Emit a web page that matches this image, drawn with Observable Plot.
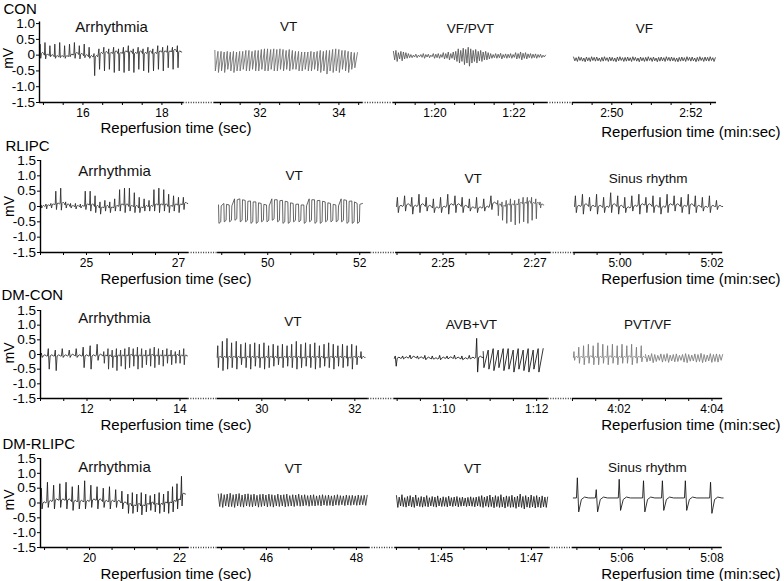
<!DOCTYPE html>
<html><head><meta charset="utf-8">
<script src="https://cdn.jsdelivr.net/npm/d3@7"></script>
<script src="https://cdn.jsdelivr.net/npm/@observablehq/plot@0.6"></script>
<style>
body{margin:0;background:#fff;}
#c{position:relative;width:784px;height:581px;background:#fff;overflow:hidden;}
</style></head><body><div id="c"></div>
<script>
// ---------- DATA ----------
const groups = ["CON","RLIPC","DM-CON","DM-RLIPC"];
const segTitles = [
  ["Arrhythmia","VT","VF/PVT","VF"],
  ["Arrhythmia","VT","VT","Sinus rhythm"],
  ["Arrhythmia","VT","AVB+VT","PVT/VF"],
  ["Arrhythmia","VT","VT","Sinus rhythm"]
];
// time windows shown in each panel segment (seconds of reperfusion)
const segWindows = [
  [[14.9,18.55],[30.85,34.6],[78.95,82.85],[169.0,172.65]],
  [[24.0,27.22],[48.91,52.24],[143.97,147.34],[298.99,302.23]],
  [[11.0,14.18],[29.04,32.29],[68.94,72.25],[241.0,244.23]],
  [[18.91,22.2],[44.91,48.29],[103.98,107.4],[304.9,308.23]]
];
const majorTicks = [
  [[16,18],[32,34],[80,82],[170,172]],
  [[25,27],[50,52],[145,147],[300,302]],
  [[12,14],[30,32],[70,72],[242,244]],
  [[20,22],[46,48],[105,107],[306,308]]
];
const majorLabels = [
  [["16","18"],["32","34"],["1:20","1:22"],["2:50","2:52"]],
  [["25","27"],["50","52"],["2:25","2:27"],["5:00","5:02"]],
  [["12","14"],["30","32"],["1:10","1:12"],["4:02","4:04"]],
  [["20","22"],["46","48"],["1:45","1:47"],["5:06","5:08"]]
];
const yTicks = [1.5,1.0,0.5,0,-0.5,-1.0,-1.5];
const yTickLabels = ["1.5","1.0","0.5","0","-0.5","-1.0","-1.5"];
const xTitleSec = "Reperfusion time (sec)";
const xTitleMin = "Reperfusion time (min:sec)";
const yTitle = "mV";

// ---- ECG traces (mV): beats [peak, trough, baseline] or hi/lo extremes ----
const conArr = [[0.35,-0.1,0.05],[0.4,-0.12,0.0],[0.3,-0.05,-0.02],[0.35,-0.1,-0.05],[0.4,-0.08,-0.05],[0.3,-0.1,-0.05],[0.35,-0.05,0.0],[0.4,-0.1,0.05],[0.3,-0.12,0.02],[0.35,-0.08,-0.02],[0.25,-0.1,-0.05],
  [0.05,-0.65,-0.05],[0.2,-0.45,0.05],[0.25,-0.5,0.08],[0.2,-0.45,0.05],[0.25,-0.55,0.1],[0.2,-0.5,0.05],[0.25,-0.55,0.1],[0.3,-0.5,0.1],[0.2,-0.55,0.05],[0.25,-0.45,0.1],[0.2,-0.5,0.05],[0.25,-0.55,0.1],[0.2,-0.5,0.05],[0.3,-0.45,0.1],[0.25,-0.5,0.1],[0.3,-0.4,0.1],[0.25,-0.45,0.15],[0.3,-0.4,0.1]];
const conVtHi = [0.15,0.12,0.12,0.1,0.12,0.1,0.12,0.1,0.12,0.12,0.15,0.15,0.12,0.15,0.15,0.18,0.2,0.2,0.18,0.2,0.18,0.2,0.18,0.15,0.18,0.15,0.12,0.12,0.1,0.1,0.1,0.12,0.1,0.12,0.15,0.12,0.15,0.15,0.18,0.2,0.18,0.15,0.15,0.12,0.1,0.08];
const conVtLo = [-0.5,-0.55,-0.5,-0.55,-0.45,-0.5,-0.55,-0.5,-0.5,-0.45,-0.5,-0.5,-0.45,-0.5,-0.5,-0.45,-0.5,-0.5,-0.45,-0.5,-0.5,-0.45,-0.5,-0.45,-0.5,-0.45,-0.45,-0.5,-0.5,-0.45,-0.5,-0.5,-0.45,-0.5,-0.55,-0.5,-0.6,-0.5,-0.55,-0.5,-0.55,-0.45,-0.5,-0.55,-0.45,-0.4];
const conVfpvtHi = [0.12,0.15,0.08,0.12,0.1,0.08,0.05, 0.02,0.0,0.03,0.0,0.02,0.05,0.02,0.03,0.0,0.05,0.03,0.05,0.02,0.08,0.05,0.1,0.05,0.1, 0.12,0.2,0.15,0.22,0.18,0.25,0.2,0.15,0.18,0.12,0.15,0.1,0.12,0.08, 0.05,0.02,0.05,0.03,0.06,0.02,0.04,0.03,0.05,0.02,0.08,0.05,0.1,0.06,0.08,0.04,0.05,0.03,0.04,0.02,0.03,0.0];
const conVfpvtLo = [-0.15,-0.2,-0.12,-0.18,-0.12,-0.1,-0.08, -0.08,-0.06,-0.08,-0.05,-0.07,-0.1,-0.06,-0.08,-0.05,-0.1,-0.08,-0.1,-0.07,-0.12,-0.1,-0.15,-0.1,-0.15, -0.2,-0.25,-0.2,-0.3,-0.25,-0.35,-0.25,-0.2,-0.25,-0.18,-0.2,-0.15,-0.15,-0.12, -0.1,-0.08,-0.1,-0.08,-0.12,-0.08,-0.1,-0.08,-0.1,-0.07,-0.12,-0.1,-0.15,-0.1,-0.12,-0.08,-0.1,-0.08,-0.1,-0.07,-0.08,-0.06];
const conVfHi = [-0.06,-0.08,-0.05,-0.07,-0.09,-0.06,-0.08,-0.05,-0.07,-0.06,-0.09,-0.07,-0.05,-0.08,-0.06,-0.07,-0.09,-0.06,-0.05,-0.08,-0.07,-0.06,-0.08,-0.05,-0.07,-0.09,-0.06,-0.08,-0.07,-0.05,-0.08,-0.06,-0.09,-0.07,-0.06,-0.08,-0.05,-0.07,-0.06,-0.08,-0.09,-0.07,-0.06,-0.08,-0.05,-0.07,-0.06,-0.09,-0.07,-0.05,-0.08,-0.06,-0.07,-0.05,-0.08];
const conVfLo = [-0.18,-0.2,-0.17,-0.19,-0.21,-0.18,-0.2,-0.17,-0.19,-0.18,-0.2,-0.19,-0.17,-0.2,-0.18,-0.19,-0.21,-0.18,-0.17,-0.2,-0.19,-0.18,-0.2,-0.17,-0.19,-0.21,-0.18,-0.2,-0.19,-0.17,-0.2,-0.18,-0.21,-0.19,-0.18,-0.2,-0.17,-0.19,-0.18,-0.2,-0.21,-0.19,-0.18,-0.2,-0.17,-0.19,-0.18,-0.21,-0.19,-0.17,-0.2,-0.18,-0.19,-0.17,-0.2];

const rlArr = [[0.05,-0.05,0.0],[0.08,-0.08,0.02],[0.1,-0.05,0.05],[0.5,-0.1,0.08],[0.6,-0.12,0.1],[0.15,-0.05,0.05],[0.1,-0.05,0.0],[0.1,-0.08,0.0],[0.08,-0.05,0.0],
  [0.5,-0.1,0.05],[0.5,-0.15,0.05],[0.35,-0.2,0.0],[0.15,-0.25,-0.05],[0.2,-0.15,0.0],[0.15,-0.2,-0.05],[0.25,-0.15,0.0],
  [0.55,-0.15,0.05],[0.6,-0.2,0.05],[0.6,-0.15,0.0],[0.45,-0.2,0.0],[0.3,-0.2,-0.05],[0.25,-0.15,0.0],[0.2,-0.15,0.0],
  [0.55,-0.15,0.05],[0.6,-0.2,0.05],[0.55,-0.15,0.05],[0.4,-0.2,0.0],[0.35,-0.15,0.05],[0.3,-0.2,0.05],[0.3,-0.1,0.1]];
const rlVtHi = [0.05,0.1,0.05,0.25,0.25,0.2,0.18,0.15,0.1,0.05,0.25,0.22,0.2,0.15,0.1,0.08,0.05,0.25,0.22,0.2,0.15,0.1,0.05,0.25,0.2,0.18,0.1];
const rlVtLo = [-0.55,-0.5,-0.5,-0.45,-0.5,-0.5,-0.55,-0.55,-0.5,-0.5,-0.45,-0.5,-0.55,-0.55,-0.5,-0.5,-0.55,-0.5,-0.55,-0.55,-0.5,-0.5,-0.5,-0.5,-0.55,-0.55,-0.55];
const rlVt2a = [[0.3,-0.2,0.0],[0.35,-0.15,0.05],[0.3,-0.25,0.0],[0.4,-0.2,0.05],[0.3,-0.15,0.0],[0.25,-0.2,-0.05],[0.3,-0.2,-0.03],[0.4,-0.25,0.05],[0.35,-0.2,0.05],[0.3,-0.2,0.0],[0.25,-0.15,-0.05],[0.3,-0.2,-0.05],[0.25,-0.15,-0.03],[0.35,-0.1,0.1]];
const rlVt2b = [[0.2,-0.3,0.05],[0.15,-0.45,0.0],[0.2,-0.55,0.05],[0.25,-0.5,0.05],[0.2,-0.6,0.05],[0.25,-0.55,0.1],[0.3,-0.5,0.1],[0.3,-0.55,0.15],[0.3,-0.45,0.1],[0.25,-0.4,0.1],[0.15,-0.05,0.05]];
const rlSinus = [[0.35,-0.2,0.0],[0.4,-0.25,0.05],[0.3,-0.15,0.0],[0.4,-0.25,0.0],[0.3,-0.2,-0.03],[0.45,-0.2,0.05],[0.35,-0.25,0.0],[0.3,-0.2,-0.05],[0.35,-0.15,0.0],[0.4,-0.25,0.05],[0.3,-0.2,0.05],[0.35,-0.2,0.0],[0.3,-0.25,-0.03],[0.4,-0.2,0.05],[0.35,-0.15,0.05],[0.3,-0.2,0.0],[0.4,-0.25,0.05],[0.35,-0.2,0.0],[0.3,-0.15,-0.03],[0.35,-0.2,0.0],[0.2,-0.1,0.0]];

const dcArrA = [[0.05,-0.1,-0.05],[0.2,-0.5,-0.05],[0.15,-0.55,-0.05],[0.2,-0.1,-0.05],[0.15,-0.1,-0.03],[0.2,-0.1,-0.05],[0.25,-0.45,-0.05],[0.3,-0.5,-0.05],[0.35,-0.2,-0.03]];
const dcArrB = [[0.1,-0.3,-0.05],[0.2,-0.5,-0.05],[0.15,-0.45,-0.08],[0.2,-0.55,-0.05],[0.15,-0.4,-0.05],[0.2,-0.5,-0.05],[0.25,-0.45,-0.03],[0.2,-0.4,-0.05],[0.25,-0.5,-0.05],[0.2,-0.45,-0.05],[0.15,-0.35,-0.05],[0.2,-0.4,-0.03],[0.25,-0.45,-0.05],[0.2,-0.35,-0.05],[0.15,-0.4,-0.05],[0.2,-0.3,-0.05],[0.15,-0.35,-0.05],[0.1,-0.3,-0.03],[0.15,-0.3,-0.05],[0.2,-0.35,-0.05]];
const dcVt = [[0.3,-0.45,-0.1],[0.45,-0.55,-0.1],[0.55,-0.5,-0.1],[0.4,-0.45,-0.1],[0.45,-0.5,-0.1],[0.35,-0.35,-0.12],[0.4,-0.45,-0.1],[0.35,-0.5,-0.1],[0.4,-0.4,-0.1],[0.35,-0.45,-0.12],[0.4,-0.5,-0.1],[0.3,-0.45,-0.1],[0.35,-0.4,-0.1],[0.3,-0.35,-0.12],[0.35,-0.45,-0.1],[0.3,-0.4,-0.1],[0.35,-0.45,-0.1],[0.45,-0.5,-0.1],[0.35,-0.45,-0.12],[0.4,-0.4,-0.1],[0.35,-0.45,-0.1],[0.4,-0.5,-0.1],[0.3,-0.45,-0.1],[0.35,-0.4,-0.12],[0.4,-0.45,-0.1],[0.35,-0.5,-0.1],[0.3,-0.4,-0.1],[0.35,-0.45,-0.1],[0.3,-0.4,-0.12],[0.35,-0.5,-0.1],[0.3,-0.35,-0.1],[0.1,-0.15,-0.1]];
const dcAvb = [[-0.05,-0.4,-0.13],[-0.05,-0.15,-0.12],[-0.02,-0.15,-0.1],[-0.05,-0.15,-0.12],[-0.03,-0.18,-0.13],[-0.05,-0.15,-0.15],[-0.03,-0.18,-0.13],[-0.05,-0.15,-0.12],[-0.02,-0.15,-0.13],[-0.05,-0.18,-0.15],[-0.03,-0.15,-0.13],[0.55,-0.6,-0.1]];
const dcAvbVtHi = [0.1,0.15,0.2,0.15,0.2,0.2,0.15,0.2,0.15,0.2,0.15,0.2];
const dcAvbVtLo = [-0.45,-0.5,-0.55,-0.45,-0.55,-0.5,-0.6,-0.5,-0.55,-0.6,-0.5,-0.6];
const dcPvt = [[0.1,-0.2,-0.1],[0.25,-0.3,-0.1],[0.3,-0.35,-0.1],[0.35,-0.3,-0.08],[0.3,-0.35,-0.1],[0.4,-0.35,-0.1],[0.35,-0.3,-0.1],[0.3,-0.35,-0.08],[0.35,-0.3,-0.1],[0.3,-0.35,-0.1],[0.35,-0.3,-0.1],[0.3,-0.3,-0.08],[0.35,-0.35,-0.1],[0.25,-0.3,-0.1],[0.3,-0.25,-0.1]];
const dcVfHi = [0.0,-0.02,0.03,0.0,-0.03,0.02,0.0,0.03,-0.02,0.0,0.02,-0.03,0.0,0.03,0.0,-0.02,0.02,0.0,0.04,0.0,-0.02,0.03,0.0,0.02,0.0];
const dcVfLo = [-0.25,-0.22,-0.28,-0.24,-0.2,-0.26,-0.23,-0.27,-0.22,-0.25,-0.24,-0.2,-0.26,-0.28,-0.23,-0.22,-0.26,-0.24,-0.28,-0.25,-0.22,-0.27,-0.24,-0.26,-0.2];

const drArrA = [[0.5,-0.2,0.0],[0.7,-0.15,0.05],[0.6,-0.2,0.1],[0.65,-0.15,0.1],[0.7,-0.2,0.1],[0.55,-0.25,0.05],[0.6,-0.2,0.05],[0.75,-0.2,0.05],[0.6,-0.15,0.1],[0.55,-0.2,0.1],[0.5,-0.15,0.05],[0.55,-0.2,0.05],[0.45,-0.15,0.05],[0.4,-0.2,0.0]];
const drArrB = [[0.3,-0.35,-0.05],[0.35,-0.35,-0.1],[0.3,-0.3,-0.05],[0.35,-0.4,-0.1],[0.3,-0.3,-0.05],[0.25,-0.25,0.0],[0.3,-0.3,-0.05],[0.35,-0.35,-0.05],[0.3,-0.3,0.0],[0.4,-0.35,0.0],[0.55,-0.3,0.05],[0.65,-0.2,0.1],[0.9,-0.1,0.3]];
const drVtHi = [0.3,0.32,0.28,0.3,0.33,0.28,0.3,0.32,0.27,0.3,0.31,0.28,0.3,0.26,0.29,0.3,0.27,0.3,0.28,0.26,0.3,0.27,0.28,0.3,0.25,0.28,0.27,0.3,0.26,0.28,0.25,0.27,0.28,0.24,0.26,0.28,0.25,0.27,0.24,0.26,0.28,0.25,0.24,0.27,0.25,0.26,0.24,0.27,0.25,0.26];
const drVtLo = [-0.12,-0.15,-0.1,-0.13,-0.12,-0.15,-0.1,-0.12,-0.14,-0.1,-0.12,-0.13,-0.1,-0.14,-0.12,-0.1,-0.13,-0.11,-0.14,-0.1,-0.12,-0.1,-0.13,-0.11,-0.1,-0.12,-0.09,-0.11,-0.1,-0.08,-0.11,-0.09,-0.1,-0.08,-0.1,-0.07,-0.09,-0.08,-0.1,-0.07,-0.08,-0.06,-0.09,-0.07,-0.08,-0.06,-0.08,-0.07,-0.06,-0.08];
const drVt2Hi = [0.25,0.2,0.28,0.18,0.22,0.25,0.2,0.27,0.18,0.22,0.2,0.25,0.18,0.22,0.2,0.24,0.17,0.21,0.19,0.23,0.18,0.2,0.22,0.18,0.2,0.17,0.19,0.21,0.18,0.2,0.22,0.25,0.2,0.23,0.27,0.2,0.25,0.22,0.28,0.2,0.24,0.22,0.26,0.2,0.23,0.3,0.22,0.25,0.2,0.27,0.22,0.25,0.2,0.24,0.2];
const drVt2Lo = [-0.15,-0.1,-0.12,-0.14,-0.1,-0.13,-0.15,-0.1,-0.12,-0.14,-0.11,-0.13,-0.1,-0.12,-0.14,-0.1,-0.12,-0.11,-0.13,-0.1,-0.12,-0.1,-0.13,-0.11,-0.1,-0.12,-0.1,-0.11,-0.13,-0.1,-0.12,-0.15,-0.11,-0.14,-0.12,-0.16,-0.12,-0.15,-0.13,-0.17,-0.12,-0.15,-0.14,-0.18,-0.13,-0.15,-0.2,-0.14,-0.16,-0.13,-0.17,-0.14,-0.16,-0.13,-0.15];
// sinus beats with their times: [time (s), R peak, S trough]
const drSinus = [[305.01,0.85,-0.3],[305.43,0.45,-0.3],[305.94,0.8,-0.25],[306.48,0.75,-0.3],[306.9,0.75,-0.25],[307.41,0.75,-0.25],[307.97,0.7,-0.35]];
const drSinusBase = 0.17;

// trace list: row, segment, time span, encoding
const traces = [
  {row:0, seg:0, t:[14.9,18.5], shape:"spike", beats:conArr, color:"#2a2a2a"},
  {row:0, seg:1, t:[30.86,34.47], shape:"vt", hi:conVtHi, lo:conVtLo, color:"#6a6a6a"},
  {row:0, seg:2, t:[78.95,82.8], shape:"zig", hi:conVfpvtHi, lo:conVfpvtLo, color:"#555"},
  {row:0, seg:3, t:[169.03,172.62], shape:"zig", hi:conVfHi, lo:conVfLo, color:"#3a3a3a"},
  {row:1, seg:0, t:[24.0,27.2], shape:"spike", beats:rlArr, color:"#2a2a2a"},
  {row:1, seg:1, t:[48.93,52.06], shape:"sq", hi:rlVtHi, lo:rlVtLo, color:"#4a4a4a"},
  {row:1, seg:2, t:[143.99,146.18], shape:"spike", beats:rlVt2a, color:"#2a2a2a"},
  {row:1, seg:2, t:[146.18,147.19], shape:"spike", beats:rlVt2b, color:"#555"},
  {row:1, seg:3, t:[299.01,302.23], shape:"spike", beats:rlSinus, color:"#2a2a2a"},
  {row:2, seg:0, t:[11.0,12.35], shape:"spike", beats:dcArrA, color:"#222"},
  {row:2, seg:0, t:[12.35,14.16], shape:"spike", beats:dcArrB, color:"#333"},
  {row:2, seg:1, t:[29.04,32.22], shape:"spike", beats:dcVt, color:"#2a2a2a"},
  {row:2, seg:2, t:[68.94,70.85], shape:"spike", beats:dcAvb, color:"#111"},
  {row:2, seg:2, t:[70.85,72.14], shape:"vt", hi:dcAvbVtHi, lo:dcAvbVtLo, color:"#111"},
  {row:2, seg:3, t:[241.02,242.57], shape:"spike", beats:dcPvt, color:"#7a7a7a"},
  {row:2, seg:3, t:[242.57,244.23], shape:"zig", hi:dcVfHi, lo:dcVfLo, color:"#7a7a7a"},
  {row:3, seg:0, t:[18.91,20.84], shape:"spike", beats:drArrA, color:"#1a1a1a"},
  {row:3, seg:0, t:[20.84,22.13], shape:"spike", beats:drArrB, color:"#1a1a1a"},
  {row:3, seg:1, t:[44.93,48.24], shape:"zig", hi:drVtHi, lo:drVtLo, color:"#2a2a2a"},
  {row:3, seg:2, t:[104.0,107.36], shape:"zig", hi:drVt2Hi, lo:drVt2Lo, color:"#1a1a1a"},
  {row:3, seg:3, t:[304.92,308.25], shape:"sinus", beats:drSinus, base:drSinusBase, color:"#111"}
];

// ---------- LAYOUT ----------
const layout = [
  {top:0,   height:145, mt:21.5, mb:43, left:39, pxs:39.5, gaps:[0.78,0.78,0.63], yTop:1.05, labelDx:-36, labelDy:-13, mvY:-0.1, secDy:26, minDy:30},
  {top:140, height:150, mt:20, mb:38, left:40, pxs:46,   gaps:[0.63,0.54,0.5],  yTop:1.5,  labelDx:-35, labelDy:-14, mvY:0, secDy:27, minDy:27},
  {top:290, height:150, mt:20, mb:42, left:40, pxs:46.5, gaps:[0.62,0.56,0.52], yTop:1.5,  labelDx:-39, labelDy:-15, mvY:0.05, secDy:27, minDy:27},
  {top:438, height:143, mt:20, mb:34, left:40, pxs:45,   gaps:[0.64,0.58,0.51], yTop:1.5,  labelDx:-38, labelDy:-14.5, mvY:0.1, secDy:26.5, minDy:26.5}
];
const titleY = [[0.9,0.9,0.84,0.84],[1.16,1.0,0.9,0.9],[1.23,1.13,1.03,1.03],[1.2,1.17,1.17,1.2]];
const FONT = "'Liberation Sans', Arial, Helvetica, sans-serif";

function tracePoints(tr) {
  const [ts, te] = tr.t, pts = [];
  if (tr.shape === "spike") {
    const n = tr.beats.length, dt = (te - ts) / n;
    tr.beats.forEach(([hi, lo, b], i) => {
      const t = ts + i * dt;
      pts.push([t, b], [t + .12*dt, hi], [t + .25*dt, lo], [t + .38*dt, b], [t + .62*dt, b + .04], [t + .85*dt, b]);
    });
    pts.push([te, tr.beats[n-1][2]]);
  } else if (tr.shape === "sinus") {
    const b = tr.base;
    pts.push([ts, b]);
    tr.beats.forEach(([t, hi, lo]) => {
      pts.push([t - .02, b], [t, hi], [t + .03, lo], [t + .09, b - .05], [t + .16, b + .03], [t + .25, b]);
    });
    pts.push([te, b]);
  } else {
    const n = Math.min(tr.hi.length, tr.lo.length), dt = (te - ts) / n;
    for (let i = 0; i < n; i++) {
      const t = ts + i * dt, hi = tr.hi[i], lo = tr.lo[i];
      if (tr.shape === "zig") pts.push([t, hi], [t + .5*dt, lo]);
      else if (tr.shape === "vt") pts.push([t, hi], [t + .15*dt, lo]);
      else pts.push([t, hi], [t + .08*dt, lo], [t + .42*dt, lo + .05], [t + .5*dt, hi - .03]);
    }
    pts.push([te, tr.hi[n-1]]);
  }
  return pts;
}

const container = document.getElementById("c");
layout.forEach((L, r) => {
  const win = segWindows[r];
  const off = []; let acc = 0;
  win.forEach(([a, b], k) => { off.push(acc); acc += (b - a) + (k < 3 ? L.gaps[k] : 0); });
  const total = acc;
  const V = (t, k) => off[k] + t - win[k][0];
  const mr = 784 - L.left - total * L.pxs;

  const tickV = [], labelMap = new Map();
  win.forEach(([a, b], k) => {
    for (let t = Math.ceil(a * 2) / 2; t <= b + 1e-9; t += 0.5) tickV.push(V(t, k));
    majorTicks[r][k].forEach((t, j) => labelMap.set(V(t, k).toFixed(4), majorLabels[r][k][j]));
  });
  const yT = yTicks.filter(v => v <= L.yTop + 1e-9);
  const yLab = new Map(yTicks.map((v, i) => [v, yTickLabels[i]]));

  const solid = win.map(([a, b], k) => ({x1: V(a, k), x2: V(b, k)}));
  const dotted = win.slice(0, 3).map(([a, b], k) => ({x1: V(b, k), x2: V(win[k+1][0], k+1)}));

  const marks = [];
  traces.filter(tr => tr.row === r).forEach(tr => {
    const pts = tracePoints(tr).map(([t, y]) => ({v: V(t, tr.seg), y}));
    marks.push(Plot.line(pts, {x: "v", y: "y", stroke: tr.color, strokeWidth: 0.85}));
  });
  marks.push(
    Plot.ruleY(solid, {x1: "x1", x2: "x2", y: () => -1.5, stroke: "#000", strokeWidth: 1.6}),
    Plot.ruleY(dotted, {x1: "x1", x2: "x2", y: () => -1.5, stroke: "#333", strokeWidth: 1.4, strokeDasharray: "1,1.5"}),
    Plot.ruleX([0], {y1: -1.5, y2: L.yTop, stroke: "#000", strokeWidth: 1.4}),
    Plot.axisX(tickV, {tickSize: 3, tickPadding: 3, fontSize: 12, label: null,
      tickFormat: d => labelMap.get(d.toFixed(4)) || ""}),
    Plot.axisY(yT, {tickSize: 3, tickPadding: 1.5, fontSize: 13.5, label: null,
      tickFormat: d => yLab.get(d)}),
    Plot.text(segTitles[r].map((s, k) => ({s, k, x: off[k] + (win[k][1] - win[k][0]) / 2, y: titleY[r][k]})),
      {x: "x", y: "y", text: "s", fontSize: d => d.k === 0 ? 15 : 13.5, fill: "#111"}),
    Plot.text([groups[r]], {text: d => d, frameAnchor: "top-left", lineAnchor: "middle", dx: L.labelDx, dy: L.labelDy, textAnchor: "start", fontSize: 15}),
    Plot.text([{x: 0, y: L.mvY, s: yTitle}], {x: "x", y: "y", text: "s", dx: -31, rotate: -90, fontSize: 14}),
    Plot.text([xTitleSec], {text: d => d, frameAnchor: "bottom-left", lineAnchor: "middle", dx: 100 - L.left, dy: L.secDy, textAnchor: "start", fontSize: 15}),
    Plot.text([xTitleMin], {text: d => d, frameAnchor: "bottom-right", lineAnchor: "middle", dx: 780 - (784 - mr), dy: L.minDy, textAnchor: "end", fontSize: 15})
  );

  const svg = Plot.plot({
    width: 784, height: L.height,
    marginTop: L.mt, marginBottom: L.mb, marginLeft: L.left, marginRight: mr,
    x: {domain: [0, total]},
    y: {domain: [-1.5, L.yTop]},
    style: {fontFamily: FONT, fontSize: "13px", background: "transparent", overflow: "visible", color: "#000"},
    marks
  });
  svg.style.position = "absolute";
  svg.style.top = L.top + "px";
  svg.style.left = "0px";
  container.append(svg);
});
</script></body></html>
